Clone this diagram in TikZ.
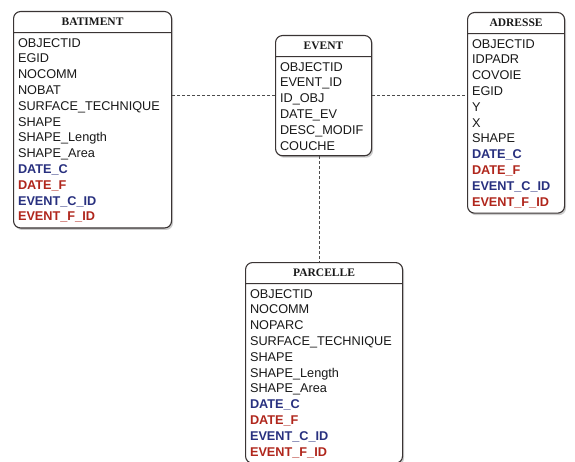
\documentclass[tikz,border=0pt]{standalone}
\usepackage{fontspec}
\setmainfont{Liberation Serif}
\setsansfont{Liberation Sans}
\usetikzlibrary{shapes.multipart,shadows}

\definecolor{attrblue}{HTML}{28307F}
\definecolor{attrred}{HTML}{B0261C}
\definecolor{boxline}{HTML}{3A3434}
\newcommand{\attrB}[1]{\textcolor{attrblue}{\bfseries #1}}
\newcommand{\attrR}[1]{\textcolor{attrred}{\bfseries #1}}
\newcommand{\tabtitle}[1]{\makebox[\hsize][c]{\rmfamily\fontsize{11.5}{13}\selectfont\rule[-1.5pt]{0pt}{10pt}\textbf{#1}}}

\begin{document}
\begin{tikzpicture}[x=1pt, y=-1pt,
    table/.style={rectangle split, rectangle split parts=2, anchor=north west,
        draw=boxline, line width=1.1pt, rounded corners=7pt, fill=white,
        drop shadow={shadow xshift=1.5pt, shadow yshift=-2pt, opacity=0.4},
        inner xsep=4.5pt, inner ysep=5pt, align=left, text=black!90,
        font=\sffamily\fontsize{12.7}{15.8}\selectfont},
    link/.style={draw=black!70, line width=0.8pt, dash pattern=on 3pt off 2pt}]

    \useasboundingbox (0,0) rectangle (575,462);

    % tables
    \node[table, text width=149pt] (bat) at (13,11) {
        \tabtitle{BATIMENT}
        \nodepart{two}
        OBJECTID\\ EGID\\ NOCOMM\\ NOBAT\\ SURFACE\_TECHNIQUE\\ SHAPE\\
        SHAPE\_Length\\ SHAPE\_Area\\ \attrB{DATE\_C}\\ \attrR{DATE\_F}\\
        \attrB{EVENT\_C\_ID}\\ \attrR{EVENT\_F\_ID}};

    \node[table, text width=87pt] (ev) at (275,35) {
        \tabtitle{EVENT}
        \nodepart{two}
        OBJECTID\\ EVENT\_ID\\ ID\_OBJ\\ DATE\_EV\\ DESC\_MODIF\\ COUCHE};

    \node[table, text width=88pt] (adr) at (467,12) {
        \tabtitle{ADRESSE}
        \nodepart{two}
        OBJECTID\\ IDPADR\\ COVOIE\\ EGID\\ Y\\ X\\ SHAPE\\
        \attrB{DATE\_C}\\ \attrR{DATE\_F}\\
        \attrB{EVENT\_C\_ID}\\ \attrR{EVENT\_F\_ID}};

    \node[table, text width=148pt] (par) at (245,262) {
        \tabtitle{PARCELLE}
        \nodepart{two}
        OBJECTID\\ NOCOMM\\ NOPARC\\ SURFACE\_TECHNIQUE\\ SHAPE\\
        SHAPE\_Length\\ SHAPE\_Area\\ \attrB{DATE\_C}\\ \attrR{DATE\_F}\\
        \attrB{EVENT\_C\_ID}\\ \attrR{EVENT\_F\_ID}};

    % links
    \draw[link] (ev.west) -- (ev.west -| bat.east);
    \draw[link] (ev.east) -- (ev.east -| adr.west);
    \draw[link] ([xshift=-4pt]ev.south) -- ([xshift=-4pt]ev.south |- par.north);
\end{tikzpicture}
\end{document}
